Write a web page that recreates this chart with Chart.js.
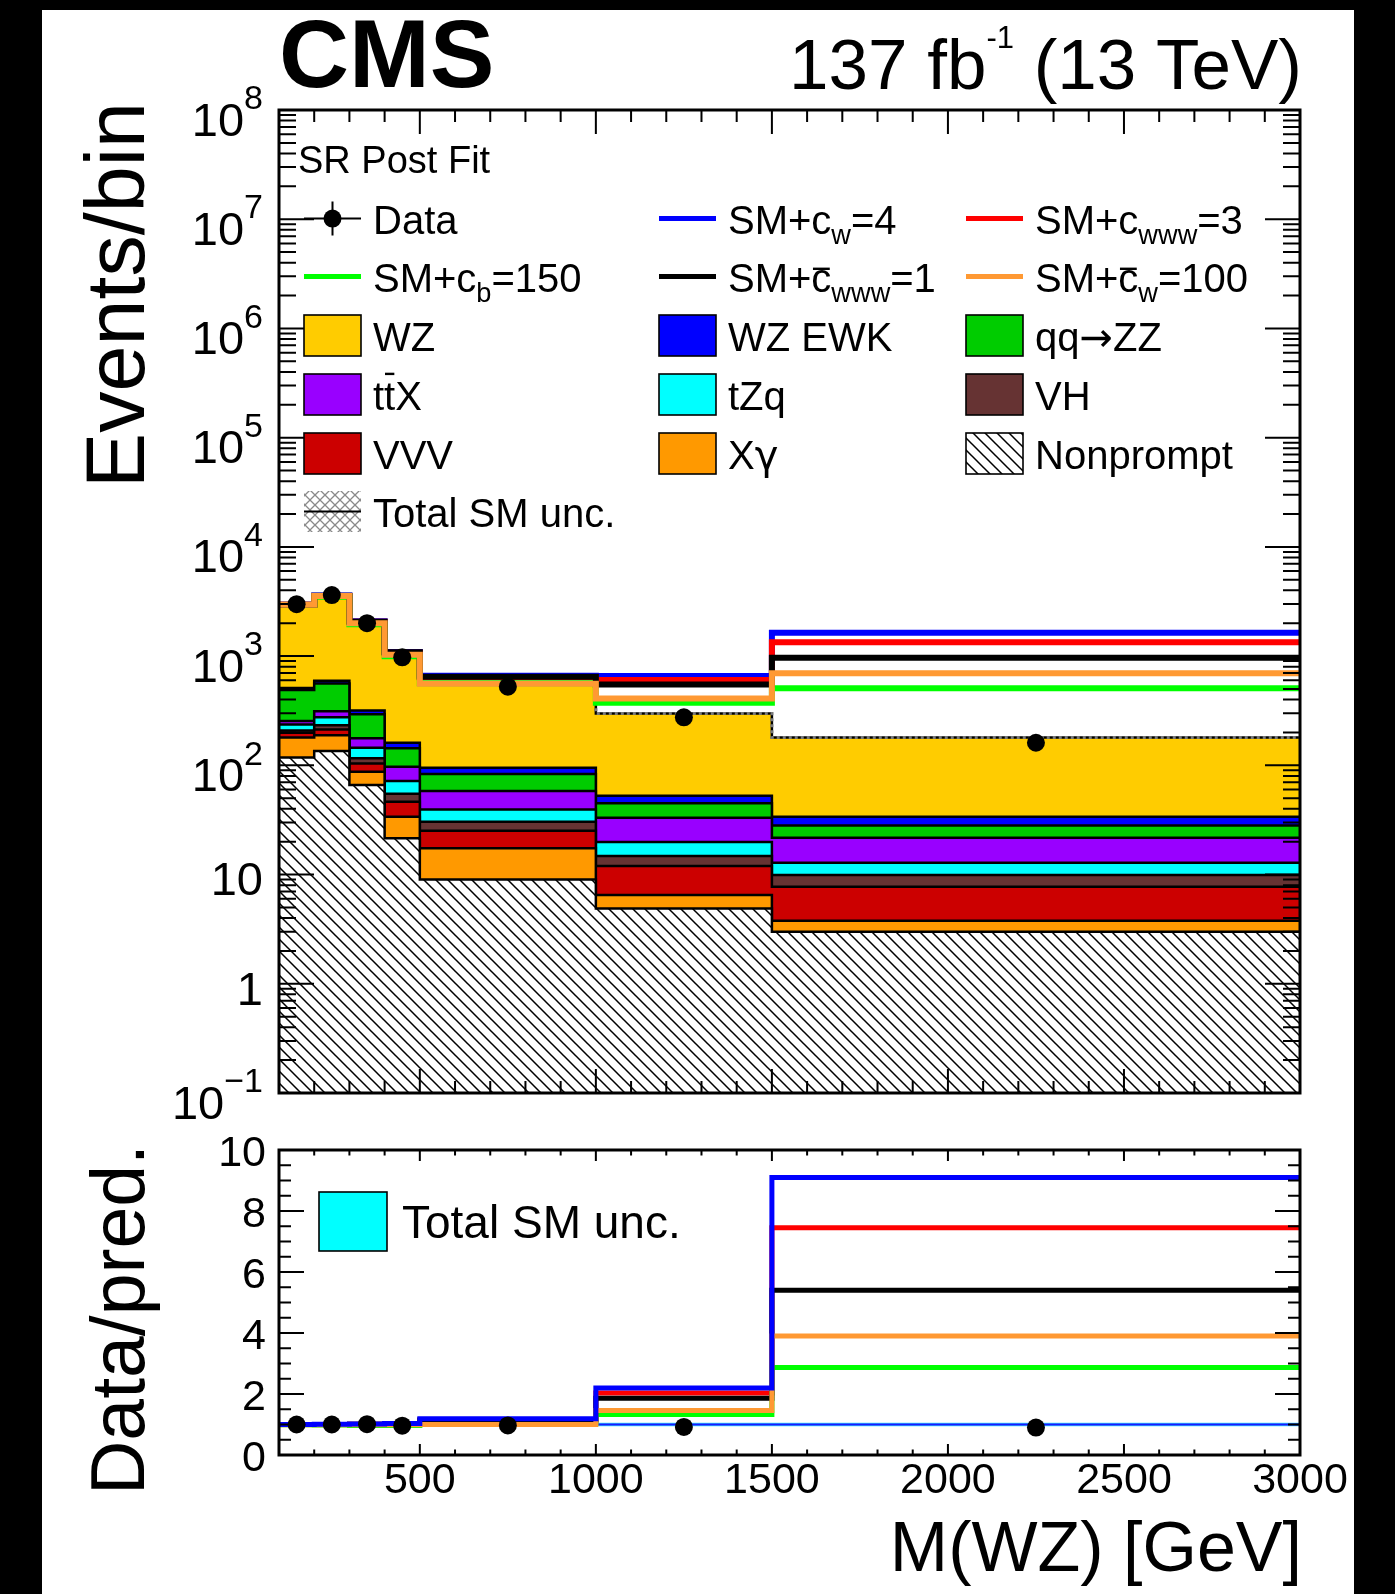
<!DOCTYPE html>
<html>
<head>
<meta charset="utf-8">
<title>M(WZ) post-fit distribution</title>
<script src="https://cdn.jsdelivr.net/npm/chart.js@4.4.1/dist/chart.umd.min.js"></script>
<style>
  html, body { margin: 0; padding: 0; background: #000; }
  #page { position: relative; width: 1395px; height: 1594px; background: #000; overflow: hidden; }
  #sheet { position: absolute; left: 42px; top: 10px; width: 1312px; height: 1584px; background: #fff; }
  canvas { position: absolute; left: 0; }
  #top { top: 0; }
  #bottom { top: 1120px; }
</style>
</head>
<body>
<div id="page">
  <div id="sheet"></div>
  <canvas id="top" width="1395" height="1120"></canvas>
  <canvas id="bottom" width="1395" height="474"></canvas>
</div>
<script>
// ---------------- binning and yields ----------------
const binEdges = [100, 200, 300, 400, 500, 1000, 1500, 3000];

// post-fit background yields per bin (stacked bottom to top)
const nonprompt = [118, 135, 66, 21.5, 9.0, 4.9, 3.0];
const xgamma    = [62, 54, 21.5, 12.4, 8.4, 1.6, 0.78];
const vvv       = [19, 24, 16.5, 12.5, 7.8, 5.5, 3.96];
const vh        = [9, 20, 12, 8.6, 5.3, 2.8, 2.16];
const tzq       = [29, 42, 29, 16.8, 9.0, 5.1, 2.9];
const ttx       = [18, 37, 32, 25.2, 18.7, 13.2, 8.9];
const qqzz      = [234, 250, 117, 46, 25, 11.8, 6.5];
const wzEwk     = [21, 32, 24, 18, 11.8, 7.8, 5.7];
const wzQcd     = [2440, 2956, 1682, 859, 465, 246, 146];

// observed events
const dataObs = [2990, 3620, 2000, 975, 525, 275, 161];

// SM + EFT predictions
const smCw4      = [2960, 3580, 2080, 1090, 660, 656, 1637];
const smCwww3    = [2950, 3560, 2060, 1075, 640, 604, 1336];
const smCb150    = [2930, 3500, 1960, 995, 565, 374, 507];
const smCbarWww1 = [2955, 3570, 2066, 1082, 647, 551, 966];
const smCbarW100 = [2950, 3550, 1995, 1030, 558, 410, 695];

// ratio panel
const ratioData      = [1.0, 1.0, 1.01, 0.96, 0.97, 0.92, 0.90];
const ratioCw4       = [1.0, 1.01, 1.02, 1.03, 1.19, 2.2, 9.1];
const ratioCwww3     = [1.0, 1.0, 1.01, 1.02, 1.15, 2.03, 7.45];
const ratioCb150     = [0.99, 0.98, 0.97, 0.97, 1.03, 1.33, 2.87];
const ratioCbarWww1  = [1.0, 1.0, 1.01, 1.02, 1.15, 1.86, 5.4];
const ratioCbarW100  = [0.99, 0.99, 0.99, 0.99, 1.0, 1.46, 3.9];
const ratioUncHalf   = [0.05, 0.05, 0.05, 0.05, 0.06, 0.06, 0.06];
const ratioUnity     = [1, 1, 1, 1, 1, 1, 1];

// tick labels
const yTickLabelsTop = [['10', '\u22121'], ['1', ''], ['10', ''], ['10', '2'], ['10', '3'],
                        ['10', '4'], ['10', '5'], ['10', '6'], ['10', '7'], ['10', '8']];
const yTickLabelsBottom = ['0', '2', '4', '6', '8', '10'];
const xTickLabels = ['500', '1000', '1500', '2000', '2500', '3000'];

// ---------------- helpers ----------------
const FONT = '"Liberation Sans", Arial, Helvetica, sans-serif';
const SYMFONT = '"DejaVu Sans", sans-serif';

function stepPoints(vals) {
  const pts = vals.map((v, i) => ({ x: binEdges[i], y: v }));
  pts.push({ x: binEdges[binEdges.length - 1], y: vals[vals.length - 1] });
  return pts;
}
const binCenters = binEdges.slice(0, -1).map((e, i) => (e + binEdges[i + 1]) / 2);
function centerPoints(vals) { return vals.map((v, i) => ({ x: binCenters[i], y: v })); }

function makeHatch(ctx) {
  const t = document.createElement('canvas');
  t.width = 12; t.height = 12;
  const g = t.getContext('2d');
  g.fillStyle = '#fff'; g.fillRect(0, 0, 12, 12);
  g.strokeStyle = '#000'; g.lineWidth = 1.5;
  g.beginPath();
  g.moveTo(-2, -2); g.lineTo(14, 14);
  g.moveTo(-2, 10); g.lineTo(2, 14);
  g.moveTo(10, -2); g.lineTo(14, 2);
  g.stroke();
  return ctx.createPattern(t, 'repeat');
}
function makeCrossHatch(ctx) {
  const t = document.createElement('canvas');
  t.width = 10; t.height = 10;
  const g = t.getContext('2d');
  g.fillStyle = '#fff'; g.fillRect(0, 0, 10, 10);
  g.strokeStyle = '#8a8a8a'; g.lineWidth = 1.3;
  g.beginPath();
  g.moveTo(-1, -1); g.lineTo(11, 11);
  g.moveTo(11, -1); g.lineTo(-1, 11);
  g.stroke();
  return ctx.createPattern(t, 'repeat');
}

// text made of plain / subscript / superscript / overlined pieces
function richText(ctx, x, y, parts, size, align, weight) {
  weight = weight || '';
  const segs = parts.map(p => {
    const s = p.sub ? size * 0.68 : p.sup ? (p.supSize || size * 0.6) : size;
    const fam = p.sym ? SYMFONT : FONT;
    ctx.font = `${weight} ${s}px ${fam}`;
    return Object.assign({}, p, { s: s, fam: fam, w: ctx.measureText(p.t).width });
  });
  const total = segs.reduce((a, b) => a + b.w, 0);
  let cx = align === 'right' ? x - total : align === 'center' ? x - total / 2 : x;
  ctx.textAlign = 'left';
  ctx.textBaseline = 'alphabetic';
  segs.forEach(g => {
    ctx.font = `${weight} ${g.s}px ${g.fam}`;
    const dy = g.sub ? size * 0.25 : g.sup ? -size * (g.rise || 0.45) : 0;
    ctx.fillText(g.t, cx, y + dy);
    if (g.bar) ctx.fillRect(cx + g.w * 0.08, y - size * g.bar, g.w * 0.84, Math.max(2, size * 0.06));
    cx += g.w;
  });
  return total;
}

function fitSize(ctx, text, width, weight) {
  ctx.font = `${weight || ''} 100px ${FONT}`;
  return 100 * width / ctx.measureText(text).width;
}

function drawRotatedTitle(ctx, text, xBase, yEnd, width) {
  const s = fitSize(ctx, text, width);
  ctx.save();
  ctx.translate(xBase, yEnd);
  ctx.rotate(-Math.PI / 2);
  ctx.font = `${s}px ${FONT}`;
  ctx.textAlign = 'right';
  ctx.textBaseline = 'alphabetic';
  ctx.fillStyle = '#000';
  ctx.fillText(text, 0, 0);
  ctx.restore();
}

function drawXTicks(ctx, a, xs, major, minor) {
  for (let v = 100; v <= 3000; v += 100) {
    const px = xs.getPixelForValue(v);
    const L = v % 500 === 0 ? major : minor;
    ctx.moveTo(px, a.bottom); ctx.lineTo(px, a.bottom - L);
    ctx.moveTo(px, a.top); ctx.lineTo(px, a.top + L);
  }
}

// ---------------- upper pad ----------------
const topCanvas = document.getElementById('top');
const topCtx = topCanvas.getContext('2d');
const hatch = makeHatch(topCtx);
const crossHatch = makeCrossHatch(topCtx);

const stackDefs = [
  ['Nonprompt', nonprompt, hatch],
  ['X\u03b3', xgamma, '#ff9900'],
  ['VVV', vvv, '#cc0000'],
  ['VH', vh, '#663333'],
  ['tZq', tzq, '#00ffff'],
  ['ttX', ttx, '#9900ff'],
  ['qq\u2192ZZ', qqzz, '#00cc00'],
  ['WZ EWK', wzEwk, '#0000ff'],
  ['WZ', wzQcd, '#ffcc00']
];
let running = binCenters.map(() => 0);
const stackSets = stackDefs.map(([label, vals, fillCol], i) => {
  running = running.map((r, j) => r + vals[j]);
  return {
    label: label, data: stepPoints(running), stepped: 'before',
    borderColor: '#000', borderWidth: 2.5, backgroundColor: fillCol,
    fill: i === 0 ? 'start' : '-1', pointRadius: 0, order: 30 + i
  };
});
const smTotal = running.slice();

const uncSet = {
  label: 'Total SM unc.', data: stepPoints(smTotal), stepped: 'before',
  borderColor: '#7a7a7a', borderWidth: 3, borderDash: [3, 3], fill: false,
  pointRadius: 0, order: 25
};

const eftDefs = [
  ['SM+cw=4', smCw4, '#0000ff', 20],
  ['SM+cwww=3', smCwww3, '#ff0000', 19],
  ['SM+cb=150', smCb150, '#00ff00', 18],
  ['SM+cbarwww=1', smCbarWww1, '#000000', 17],
  ['SM+cbarw=100', smCbarW100, '#ff9933', 16]
];
const eftSets = eftDefs.map(([label, vals, col, ord]) => ({
  label: label, data: stepPoints(vals), stepped: 'before',
  borderColor: col, borderWidth: 6, fill: false, pointRadius: 0, order: ord
}));

const dataSet = {
  label: 'Data', data: centerPoints(dataObs), showLine: false,
  pointRadius: 9, pointStyle: 'circle', pointBackgroundColor: '#000',
  pointBorderWidth: 0, order: 0
};

const legendEntries = [
  { kind: 'marker', text: [{ t: 'Data' }] },
  { kind: 'line', color: '#0000ff', text: [{ t: 'SM+c' }, { t: 'w', sub: 1 }, { t: '=4' }] },
  { kind: 'line', color: '#ff0000', text: [{ t: 'SM+c' }, { t: 'www', sub: 1 }, { t: '=3' }] },
  { kind: 'line', color: '#00ff00', text: [{ t: 'SM+c' }, { t: 'b', sub: 1 }, { t: '=150' }] },
  { kind: 'line', color: '#000000', text: [{ t: 'SM+' }, { t: 'c', bar: 0.6 }, { t: 'www', sub: 1 }, { t: '=1' }] },
  { kind: 'line', color: '#ff9933', text: [{ t: 'SM+' }, { t: 'c', bar: 0.6 }, { t: 'w', sub: 1 }, { t: '=100' }] },
  { kind: 'box', color: '#ffcc00', text: [{ t: 'WZ' }] },
  { kind: 'box', color: '#0000ff', text: [{ t: 'WZ EWK' }] },
  { kind: 'box', color: '#00cc00', text: [{ t: 'qq' }, { t: '\u2192', sym: 1 }, { t: 'ZZ' }] },
  { kind: 'box', color: '#9900ff', text: [{ t: 't' }, { t: 't', bar: 0.92 }, { t: 'X' }] },
  { kind: 'box', color: '#00ffff', text: [{ t: 'tZq' }] },
  { kind: 'box', color: '#663333', text: [{ t: 'VH' }] },
  { kind: 'box', color: '#cc0000', text: [{ t: 'VVV' }] },
  { kind: 'box', color: '#ff9900', text: [{ t: 'X' }, { t: '\u03b3', sym: 1 }] },
  { kind: 'box', color: hatch, text: [{ t: 'Nonprompt' }] },
  { kind: 'unc', text: [{ t: 'Total SM unc.' }] }
];

const topDecor = {
  id: 'topDecor',
  afterDraw(chart) {
    const ctx = chart.ctx, a = chart.chartArea, xs = chart.scales.x, ys = chart.scales.y;
    ctx.save();
    ctx.strokeStyle = '#000';
    ctx.fillStyle = '#000';
    ctx.lineWidth = 2;
    ctx.beginPath();
    drawXTicks(ctx, a, xs, 24, 12);
    for (let d = -1; d <= 7; d++) {
      for (let k = 1; k <= 9; k++) {
        const py = ys.getPixelForValue(k * Math.pow(10, d));
        const L = k === 1 ? 35 : 17;
        ctx.moveTo(a.left, py); ctx.lineTo(a.left + L, py);
        ctx.moveTo(a.right, py); ctx.lineTo(a.right - L, py);
      }
    }
    ctx.stroke();
    ctx.lineWidth = 3;
    ctx.strokeRect(a.left, a.top, a.right - a.left, a.bottom - a.top);

    // y tick labels
    yTickLabelsTop.forEach(([base, exp], i) => {
      const py = ys.getPixelForValue(Math.pow(10, i - 1));
      if (exp) {
        richText(ctx, 263, py + 8.6 + 0.36 * 47, [{ t: base }, { t: exp, sup: 1, supSize: 34, rise: 0.56 }], 47, 'right');
      } else {
        richText(ctx, 263, py + 4 + 0.36 * 47, [{ t: base }], 47, 'right');
      }
    });

    // header
    richText(ctx, 279, 87, [{ t: 'CMS' }], 97, 'left', 'bold');
    richText(ctx, 1302, 89, [{ t: '137 fb' }, { t: '-1', sup: 1, supSize: 31, rise: 0.58 }, { t: ' (13 TeV)' }], 71, 'right');

    // axis title
    drawRotatedTitle(ctx, 'Events/bin', 144, 102, 386);

    // legend
    richText(ctx, 298, 173, [{ t: 'SR Post Fit' }], 38, 'left');
    const rows = [218.6, 276.6, 335.5, 394.5, 453.5, 511.5];
    const cols = [304, 659, 966];
    const symW = 57, boxH = 41;
    legendEntries.forEach((e, i) => {
      const x = cols[i % 3], cy = rows[Math.floor(i / 3)];
      ctx.save();
      if (e.kind === 'marker') {
        ctx.strokeStyle = '#000'; ctx.lineWidth = 2;
        ctx.beginPath();
        ctx.moveTo(x, cy); ctx.lineTo(x + symW, cy);
        ctx.moveTo(x + symW / 2, cy - 17); ctx.lineTo(x + symW / 2, cy + 17);
        ctx.stroke();
        ctx.beginPath(); ctx.arc(x + symW / 2, cy, 9, 0, Math.PI * 2); ctx.fill();
      } else if (e.kind === 'line') {
        ctx.strokeStyle = e.color; ctx.lineWidth = 5;
        ctx.beginPath(); ctx.moveTo(x, cy); ctx.lineTo(x + symW, cy); ctx.stroke();
      } else if (e.kind === 'box') {
        ctx.fillStyle = e.color;
        ctx.fillRect(x, cy - boxH / 2, symW, boxH);
        ctx.strokeStyle = '#000'; ctx.lineWidth = 1.6;
        ctx.strokeRect(x, cy - boxH / 2, symW, boxH);
      } else if (e.kind === 'unc') {
        ctx.fillStyle = crossHatch;
        ctx.fillRect(x, cy - boxH / 2, symW, boxH);
        ctx.strokeStyle = '#000'; ctx.lineWidth = 2;
        ctx.beginPath(); ctx.moveTo(x, cy); ctx.lineTo(x + symW, cy); ctx.stroke();
      }
      ctx.restore();
      ctx.fillStyle = '#000';
      richText(ctx, x + 69, cy + 15, e.text, 40, 'left');
    });
    ctx.restore();
  }
};

new Chart(topCanvas, {
  type: 'line',
  data: { datasets: [...stackSets, uncSet, ...eftSets, dataSet] },
  options: {
    responsive: false, animation: false, devicePixelRatio: 1, events: [],
    layout: { padding: { left: 279, right: 95, top: 110, bottom: 27 } },
    elements: { line: { tension: 0, borderJoinStyle: 'miter', borderCapStyle: 'butt' } },
    scales: {
      x: { type: 'linear', min: 100, max: 3000, display: false },
      y: { type: 'logarithmic', min: 0.1, max: 1e8, display: false }
    },
    plugins: { legend: { display: false }, tooltip: { enabled: false } }
  },
  plugins: [topDecor]
});

// ---------------- ratio pad ----------------
const botCanvas = document.getElementById('bottom');

const bandLow = ratioUnity.map((u, i) => u - ratioUncHalf[i]);
const bandHigh = ratioUnity.map((u, i) => u + ratioUncHalf[i]);

const ratioSets = [
  { label: 'unc low', data: stepPoints(bandLow), stepped: 'before', borderWidth: 0, borderColor: 'rgba(0,0,0,0)', fill: false, pointRadius: 0, order: 40 },
  { label: 'Total SM unc.', data: stepPoints(bandHigh), stepped: 'before', borderWidth: 0, borderColor: 'rgba(0,0,0,0)', backgroundColor: '#33ddff', fill: '-1', pointRadius: 0, order: 39 },
  { label: 'SM', data: stepPoints(ratioUnity), stepped: 'before', borderColor: '#1a1aff', borderWidth: 2, fill: false, pointRadius: 0, order: 38 },
  { label: 'SM+cwww=3', data: stepPoints(ratioCwww3), stepped: 'before', borderColor: '#ff0000', borderWidth: 5, fill: false, pointRadius: 0, order: 10 },
  { label: 'SM+cb=150', data: stepPoints(ratioCb150), stepped: 'before', borderColor: '#00ff00', borderWidth: 5, fill: false, pointRadius: 0, order: 9 },
  { label: 'SM+cbarwww=1', data: stepPoints(ratioCbarWww1), stepped: 'before', borderColor: '#000000', borderWidth: 5, fill: false, pointRadius: 0, order: 8 },
  { label: 'SM+cbarw=100', data: stepPoints(ratioCbarW100), stepped: 'before', borderColor: '#ff9933', borderWidth: 5, fill: false, pointRadius: 0, order: 7 },
  { label: 'SM+cw=4', data: stepPoints(ratioCw4), stepped: 'before', borderColor: '#0000ff', borderWidth: 5, fill: false, pointRadius: 0, order: 6 },
  { label: 'Data', data: centerPoints(ratioData), showLine: false, pointRadius: 9, pointStyle: 'circle', pointBackgroundColor: '#000', pointBorderWidth: 0, order: 0 }
];

const bottomDecor = {
  id: 'bottomDecor',
  afterDraw(chart) {
    const ctx = chart.ctx, a = chart.chartArea, xs = chart.scales.x, ys = chart.scales.y;
    ctx.save();
    ctx.strokeStyle = '#000';
    ctx.fillStyle = '#000';
    ctx.lineWidth = 2;
    ctx.beginPath();
    drawXTicks(ctx, a, xs, 11, 5.5);
    for (let v = 0; v <= 10; v += 0.5) {
      const py = ys.getPixelForValue(v);
      const L = v % 2 === 0 ? 25 : 12;
      ctx.moveTo(a.left, py); ctx.lineTo(a.left + L, py);
      ctx.moveTo(a.right, py); ctx.lineTo(a.right - L, py);
    }
    ctx.stroke();
    ctx.lineWidth = 3;
    ctx.strokeRect(a.left, a.top, a.right - a.left, a.bottom - a.top);

    yTickLabelsBottom.forEach(lab => {
      const py = ys.getPixelForValue(parseFloat(lab));
      richText(ctx, 266, py + 1 + 0.36 * 43, [{ t: lab }], 43, 'right');
    });
    xTickLabels.forEach(lab => {
      const px = xs.getPixelForValue(parseFloat(lab));
      richText(ctx, px, 373, [{ t: lab }], 43, 'center');
    });

    richText(ctx, 1302, 451, [{ t: 'M(WZ) [GeV]' }], 70, 'right');
    drawRotatedTitle(ctx, 'Data/pred.', 144, 24, 351);

    // legend
    ctx.fillStyle = '#00ffff';
    ctx.fillRect(319, 72, 68, 59);
    ctx.strokeStyle = '#000'; ctx.lineWidth = 1.6;
    ctx.strokeRect(319, 72, 68, 59);
    ctx.fillStyle = '#000';
    richText(ctx, 402, 118, [{ t: 'Total SM unc.' }], 46, 'left');
    ctx.restore();
  }
};

new Chart(botCanvas, {
  type: 'line',
  data: { datasets: ratioSets },
  options: {
    responsive: false, animation: false, devicePixelRatio: 1, events: [],
    layout: { padding: { left: 279, right: 95, top: 30, bottom: 139 } },
    elements: { line: { tension: 0, borderJoinStyle: 'miter', borderCapStyle: 'butt' } },
    scales: {
      x: { type: 'linear', min: 100, max: 3000, display: false },
      y: { type: 'linear', min: 0, max: 10, display: false }
    },
    plugins: { legend: { display: false }, tooltip: { enabled: false } }
  },
  plugins: [bottomDecor]
});
</script>
</body>
</html>
